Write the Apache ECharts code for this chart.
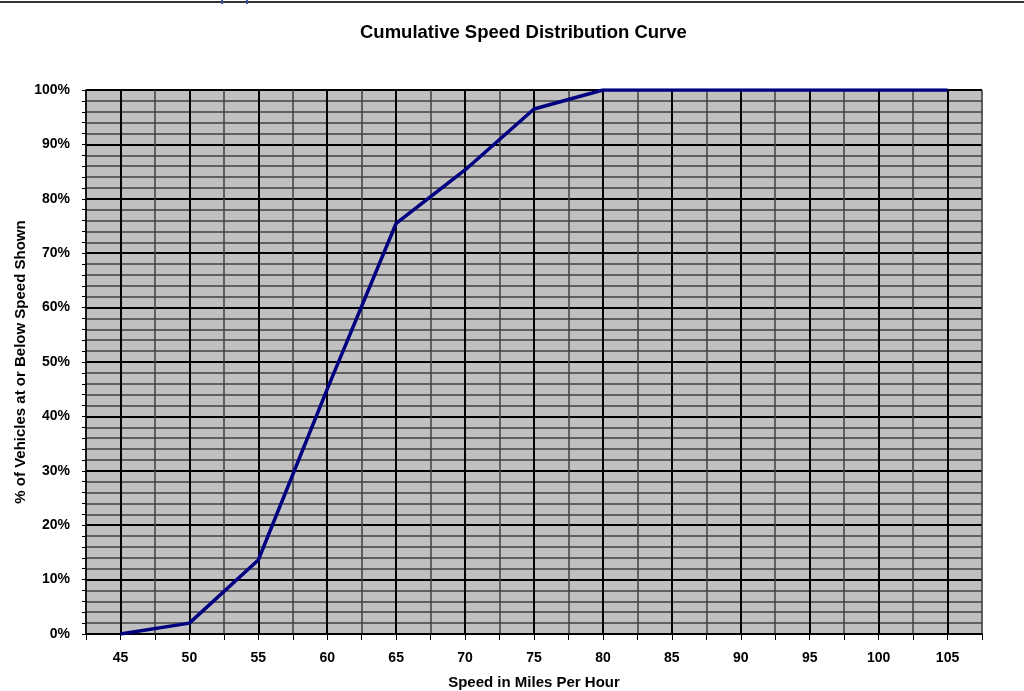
<!DOCTYPE html>
<html>
<head>
<meta charset="utf-8">
<script src="https://cdn.jsdelivr.net/npm/echarts@6/dist/echarts.min.js"></script>
<style>html,body{margin:0;padding:0;background:#fff;overflow:hidden}#c{width:1024px;height:691px}</style>
</head>
<body>
<div id="c"></div>
<script>
// Category positions along the x axis (every 2.5 mph)
const xCategories = ['42.5','45','47.5','50','52.5','55','57.5','60','62.5','65','67.5','70','72.5','75','77.5','80','82.5','85','87.5','90','92.5','95','97.5','100','102.5','105','107.5'];
// Measured speeds and cumulative percentages
const speeds = ['45','50','55','60','65','70','75','80','85','90','95','100','105'];
const cumulativePct = [0, 2, 13.6, 45, 75.5, 85.3, 96.5, 100, 100, 100, 100, 100, 100];
const labelledSpeeds = ['45','50','55','60','65','70','75','80','85','90','95','100','105'];

const font = 'Liberation Sans, Arial, sans-serif';
const chart = echarts.init(document.getElementById('c'), null, {renderer: 'canvas', width: 1024, height: 691});
const isLabelled = (idx) => labelledSpeeds.indexOf(xCategories[idx]) >= 0;

chart.setOption({
  animation: false,
  backgroundColor: '#fff',
  title: {
    text: 'Cumulative Speed Distribution Curve',
    left: 355, top: 18,
    textStyle: {fontFamily: font, fontSize: 18.5, fontWeight: 'bold', color: '#000'}
  },
  graphic: [
    {type: 'line', shape: {x1: 0, y1: 2, x2: 1024, y2: 2}, style: {stroke: '#333', lineWidth: 2}},
    {type: 'rect', shape: {x: 221, y: 0, width: 2, height: 4}, style: {fill: '#4050a0'}},
    {type: 'rect', shape: {x: 246, y: 0, width: 2, height: 4}, style: {fill: '#4050a0'}}
  ],
  grid: {
    left: 86, right: 42, top: 90, bottom: 57,
    outerBoundsMode: 'none', containLabel: false,
    show: true, backgroundColor: '#C0C0C0', borderColor: '#9a9a9a', borderWidth: 1
  },
  xAxis: [
    {
      type: 'category', data: xCategories, boundaryGap: false, position: 'bottom',
      name: 'Speed in Miles Per Hour', nameLocation: 'middle', nameGap: 41,
      nameTextStyle: {fontFamily: font, fontSize: 15, fontWeight: 'bold', color: '#000'},
      axisLine: {show: true, lineStyle: {color: '#000', width: 1.5}},
      axisTick: {show: true, interval: 0, length: 6, lineStyle: {color: '#000', width: 1}},
      axisLabel: {
        interval: (idx) => isLabelled(idx), margin: 17,
        fontFamily: font, fontSize: 14, fontWeight: 'bold', color: '#000'
      },
      splitLine: {show: true, interval: 0, lineStyle: {color: '#404040', width: 1.5}}
    },
    {
      type: 'category', data: xCategories, boundaryGap: false, position: 'bottom',
      axisLine: {show: false}, axisTick: {show: false}, axisLabel: {show: false},
      splitLine: {show: true, interval: (idx) => isLabelled(idx), lineStyle: {color: '#000', width: 2}}
    }
  ],
  yAxis: {
    type: 'value', min: 0, max: 100, interval: 10,
    name: '% of Vehicles at or Below Speed Shown', nameLocation: 'middle', nameGap: 58, nameRotate: 90,
    nameMoveOverlap: false,
    nameTextStyle: {fontFamily: font, fontSize: 15, fontWeight: 'bold', color: '#000'},
    axisLine: {show: true, lineStyle: {color: '#000', width: 1.5}},
    axisTick: {show: true, length: 4, lineStyle: {color: '#000'}},
    minorTick: {show: true, splitNumber: 5, length: 4, lineStyle: {color: '#000'}},
    axisLabel: {formatter: '{value}%', margin: 16, fontFamily: font, fontSize: 14, fontWeight: 'bold', color: '#000'},
    splitLine: {show: true, lineStyle: {color: '#000', width: 2}},
    minorSplitLine: {show: true, lineStyle: {color: '#404040', width: 1.5}}
  },
  series: [{
    type: 'line',
    xAxisIndex: 0,
    data: speeds.map((s, i) => [s, cumulativePct[i]]),
    symbol: 'none',
    lineStyle: {color: '#000080', width: 3.5},
    z: 5
  }]
});
</script>
</body>
</html>
